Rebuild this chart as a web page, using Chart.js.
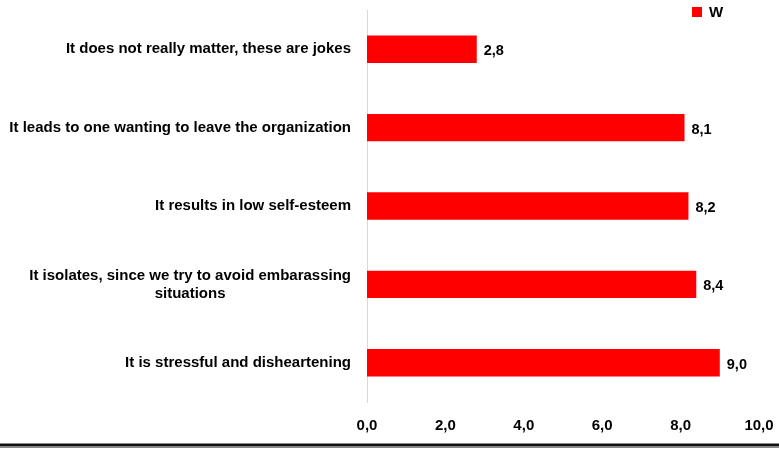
<!DOCTYPE html>
<html>
<head>
<meta charset="utf-8">
<script src="https://cdn.jsdelivr.net/npm/chart.js@4"></script>
<style>
  html, body { margin: 0; padding: 0; background: #fff; }
  #wrap { width: 779px; height: 449px; position: relative; }
</style>
</head>
<body>
<div id="wrap"><canvas id="chart"></canvas></div>
<script>
const categories = [
  'It does not really matter, these are jokes',
  'It leads to one wanting to leave the organization',
  'It results in low self-esteem',
  ['It isolates, since we try to avoid embarassing', 'situations'],
  'It is stressful and disheartening'
];
const seriesName = 'W';
const values = [2.8, 8.1, 8.2, 8.4, 9.0];
const tickValues = [0, 2, 4, 6, 8, 10];

const FONT = '"Liberation Sans", Arial, sans-serif';
const fmt = v => v.toFixed(1).replace('.', ',');

// category labels: block right-aligned to the axis, lines centred inside it
const catLabels = {
  id: 'catLabels',
  afterDraw(chart) {
    const ctx = chart.ctx;
    const y = chart.scales.y;
    const right = y.right - 16;
    const lh = 18;
    ctx.save();
    ctx.font = 'bold 15px ' + FONT;
    ctx.fillStyle = '#000';
    ctx.textAlign = 'center';
    ctx.textBaseline = 'middle';
    chart.data.labels.forEach((lab, i) => {
      const lines = Array.isArray(lab) ? lab : [lab];
      const w = Math.max(...lines.map(l => ctx.measureText(l).width));
      const cx = right - w / 2;
      const cy = y.getPixelForTick(i);
      lines.forEach((l, k) => {
        ctx.fillText(l, cx, cy + (k - (lines.length - 1) / 2) * lh);
      });
    });
    ctx.restore();
  }
};

// value labels, legend and the bottom rule
const extras = {
  id: 'extras',
  afterDatasetsDraw(chart) {
    const ctx = chart.ctx;
    const meta = chart.getDatasetMeta(0);
    ctx.save();
    ctx.font = 'bold 14.5px ' + FONT;
    ctx.fillStyle = '#000';
    ctx.textAlign = 'left';
    ctx.textBaseline = 'middle';
    meta.data.forEach((bar, i) => {
      ctx.fillText(fmt(values[i]), bar.x + 7, bar.y + 2);
    });

    // legend
    const ds = chart.data.datasets[0];
    ctx.fillStyle = ds.backgroundColor;
    ctx.fillRect(692, 7, 10, 10);
    ctx.fillStyle = '#000';
    ctx.font = 'bold 15px ' + FONT;
    ctx.fillText(ds.label, 709, 13);

    // bottom rule
    ctx.fillStyle = '#888';
    ctx.fillRect(0, 443, chart.width, 5);
    ctx.fillStyle = '#111';
    ctx.fillRect(0, 444, chart.width, 2);
    ctx.restore();
  }
};

new Chart(document.getElementById('chart'), {
  type: 'bar',
  data: {
    labels: categories,
    datasets: [{
      label: seriesName,
      data: values,
      backgroundColor: '#ff0000',
      borderWidth: 0,
      barPercentage: 0.7,
      categoryPercentage: 0.5
    }]
  },
  options: {
    indexAxis: 'y',
    responsive: true,
    maintainAspectRatio: false,
    animation: false,
    layout: { padding: { top: 10, right: 20, left: 0, bottom: 0 } },
    plugins: {
      legend: { display: false },
      tooltip: { enabled: false }
    },
    scales: {
      x: {
        min: 0,
        max: 10,
        afterBuildTicks: s => { s.ticks = tickValues.map(v => ({ value: v })); },
        afterFit: s => { s.height = 47; s.paddingLeft = 0; s.paddingRight = 0; },
        grid: { display: false, drawTicks: false },
        border: { display: false },
        ticks: {
          padding: 15,
          color: '#000',
          font: { family: FONT, size: 15, weight: 'bold' },
          callback: v => fmt(v)
        }
      },
      y: {
        afterFit: s => { s.width = 367; s.paddingTop = 0; s.paddingBottom = 0; },
        grid: { display: false, drawTicks: false },
        border: { display: true, color: '#d9d9d9', width: 1 },
        ticks: { display: false }
      }
    }
  },
  plugins: [extras, catLabels]
});
</script>
</body>
</html>
